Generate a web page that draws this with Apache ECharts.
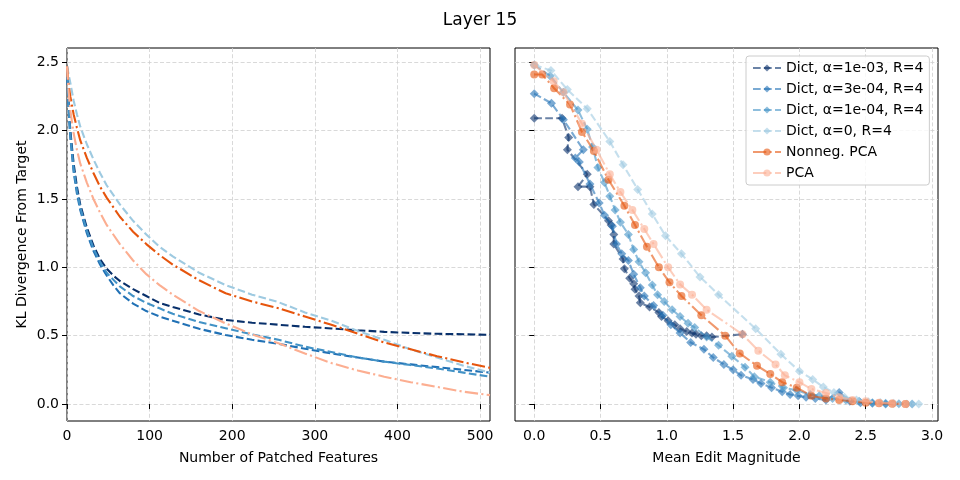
<!DOCTYPE html>
<html>
<head>
<meta charset="utf-8">
<title>Layer 15</title>
<script src="https://cdn.jsdelivr.net/npm/echarts@6/dist/echarts.min.js"></script>
<style>
  html, body { margin: 0; padding: 0; background: #fff; }
  #chart { width: 960px; height: 480px; }
</style>
</head>
<body>
<div id="chart"></div>
<script>
// left panel: KL vs number of patched features
var patched = [0, 2, 4, 8, 12, 16, 24, 32, 40, 48, 56, 64, 80, 96, 112, 128, 160, 192, 224, 256, 288, 320, 352, 384, 416, 448, 480, 512];
var klDict1e3 = [2.47, 2.20, 2.00, 1.76, 1.59, 1.46, 1.29, 1.16, 1.06, 0.99, 0.94, 0.90, 0.84, 0.79, 0.74, 0.71, 0.655, 0.615, 0.595, 0.58, 0.565, 0.553, 0.54, 0.528, 0.52, 0.514, 0.51, 0.506];
var klDict3e4 = [2.47, 2.15, 1.95, 1.70, 1.54, 1.42, 1.25, 1.12, 1.02, 0.94, 0.87, 0.81, 0.735, 0.68, 0.64, 0.61, 0.55, 0.505, 0.47, 0.44, 0.405, 0.37, 0.34, 0.31, 0.29, 0.27, 0.25, 0.23];
var klDict1e4 = [2.47, 2.17, 1.97, 1.72, 1.56, 1.44, 1.27, 1.14, 1.04, 0.96, 0.91, 0.86, 0.79, 0.74, 0.70, 0.66, 0.60, 0.555, 0.51, 0.47, 0.42, 0.38, 0.34, 0.31, 0.285, 0.26, 0.23, 0.20];
var klDict0 = [2.47, 2.41, 2.35, 2.22, 2.12, 2.03, 1.90, 1.79, 1.69, 1.60, 1.53, 1.46, 1.34, 1.24, 1.15, 1.08, 0.96, 0.87, 0.80, 0.745, 0.67, 0.61, 0.535, 0.47, 0.40, 0.34, 0.28, 0.23];
var klNonneg = [2.47, 2.33, 2.25, 2.12, 2.02, 1.93, 1.80, 1.69, 1.59, 1.51, 1.44, 1.37, 1.26, 1.17, 1.09, 1.02, 0.905, 0.81, 0.75, 0.70, 0.64, 0.58, 0.515, 0.45, 0.40, 0.35, 0.305, 0.265];
var klPca = [2.47, 2.28, 2.15, 1.98, 1.86, 1.76, 1.62, 1.50, 1.40, 1.31, 1.24, 1.17, 1.05, 0.95, 0.87, 0.80, 0.68, 0.59, 0.51, 0.445, 0.37, 0.30, 0.245, 0.20, 0.16, 0.125, 0.09, 0.065];

// right panel: [mean edit magnitude, KL]
var dict1e3 = [[0,2.09],[0.21,2.09],[0.26,1.95],[0.25,1.86],[0.40,1.68],[0.33,1.59],[0.42,1.59],[0.45,1.46],[0.56,1.34],[0.58,1.31],[0.60,1.24],[0.60,1.17],[0.67,1.06],[0.68,0.99],[0.72,0.92],[0.75,0.88],[0.76,0.84],[0.79,0.79],[0.80,0.74],[0.87,0.71],[0.94,0.67],[0.96,0.64],[1.01,0.61],[1.06,0.58],[1.10,0.55],[1.15,0.53],[1.19,0.52],[1.22,0.51],[1.26,0.50],[1.30,0.50],[1.34,0.49],[1.57,0.51]];
var dict3e4 = [[0,2.27],[0.13,2.20],[0.22,2.08],[0.37,1.86],[0.31,1.80],[0.34,1.77],[0.42,1.61],[0.49,1.47],[0.53,1.38],[0.59,1.30],[0.62,1.17],[0.66,1.10],[0.71,1.05],[0.75,0.95],[0.80,0.85],[0.83,0.79],[0.90,0.72],[0.97,0.65],[1.03,0.58],[1.10,0.52],[1.18,0.45],[1.28,0.40],[1.35,0.34],[1.43,0.29],[1.50,0.25],[1.56,0.21],[1.65,0.18],[1.71,0.15],[1.79,0.12],[1.87,0.09],[1.93,0.07],[1.99,0.06],[2.05,0.05],[2.12,0.04],[2.20,0.03],[2.30,0.085],[2.38,0.02],[2.46,0.01],[2.55,0.005],[2.65,0]];
var dict1e4 = [[0,2.48],[0.12,2.40],[0.22,2.28],[0.33,2.15],[0.40,2.01],[0.44,1.88],[0.48,1.73],[0.53,1.62],[0.57,1.52],[0.61,1.42],[0.65,1.33],[0.71,1.24],[0.75,1.13],[0.79,1.04],[0.84,0.96],[0.89,0.87],[0.93,0.80],[0.98,0.75],[1.04,0.69],[1.10,0.64],[1.16,0.59],[1.21,0.56],[1.30,0.49],[1.39,0.43],[1.49,0.35],[1.59,0.27],[1.66,0.20],[1.78,0.16],[1.88,0.12],[1.98,0.10],[2.08,0.07],[2.15,0.06],[2.25,0.04],[2.35,0.03],[2.45,0.02],[2.55,0.01],[2.65,0.005],[2.75,0.002],[2.85,0]];
var dict0 = [[0,2.48],[0.126,2.44],[0.25,2.30],[0.40,2.16],[0.57,1.92],[0.67,1.75],[0.78,1.57],[0.89,1.39],[0.99,1.23],[1.11,1.10],[1.25,0.93],[1.39,0.80],[1.67,0.55],[1.86,0.365],[2.00,0.24],[2.10,0.18],[2.18,0.125],[2.26,0.085],[2.34,0.05],[2.43,0.03],[2.52,0.017],[2.61,0.012],[2.71,0.005],[2.81,0],[2.90,0]];
var nonnegPca = [[0,2.41],[0.06,2.41],[0.15,2.31],[0.27,2.19],[0.36,1.99],[0.45,1.85],[0.56,1.64],[0.68,1.45],[0.76,1.31],[0.85,1.15],[0.94,1.00],[1.02,0.89],[1.11,0.79],[1.26,0.65],[1.44,0.50],[1.55,0.37],[1.68,0.28],[1.78,0.22],[1.87,0.16],[1.98,0.12],[2.09,0.06],[2.2,0.04],[2.3,0.03],[2.4,0.02],[2.5,0.01],[2.6,0.005],[2.7,0.002],[2.8,0]];
var pca = [[0,2.48],[0.146,2.36],[0.22,2.28],[0.36,2.05],[0.47,1.86],[0.57,1.68],[0.65,1.55],[0.74,1.42],[0.83,1.28],[0.90,1.17],[1.01,1.00],[1.10,0.875],[1.19,0.80],[1.30,0.69],[1.57,0.51],[1.69,0.39],[1.82,0.29],[1.89,0.21],[2.00,0.16],[2.09,0.11],[2.2,0.08],[2.3,0.05],[2.4,0.03],[2.5,0.02],[2.6,0.01],[2.7,0.005],[2.8,0]];

var names = ['Dict, α=1e-03, R=4', 'Dict, α=3e-04, R=4', 'Dict, α=1e-04, R=4', 'Dict, α=0, R=4', 'Nonneg. PCA', 'PCA'];
var colors = ['#08306b', '#2171b5', '#4292c6', '#9ecae1', '#e6550d', '#fcae91'];
var yTicks = [0, 0.5, 1.0, 1.5, 2.0, 2.5];
var featTicks = [0, 100, 200, 300, 400, 500];
var editTicks = [0, 0.5, 1.0, 1.5, 2.0, 2.5, 3.0];

var FONT = 'DejaVu Sans';
var DASH = [7.7, 3.3];
var DASHDOT = [13.3, 3.3, 2.1, 3.3];

function axisCommon(ticks, showLabels) {
  return {
    type: 'value',
    axisLine: { show: false },
    axisTick: { show: true, inside: false, length: 5, customValues: ticks, lineStyle: { color: '#000', width: 1 } },
    axisLabel: { show: showLabels, customValues: ticks, color: '#000', fontFamily: FONT, fontSize: 14, margin: 8,
      formatter: function (v) { return ticks === featTicks ? String(v) : v.toFixed(1); } },
    splitLine: { show: true, lineStyle: { color: '#cfcfcf', width: 0.8, type: [4, 2.2] } }
  };
}

function leftSeries(i, vals) {
  return {
    name: 'L ' + names[i], type: 'line', xAxisIndex: 0, yAxisIndex: 0,
    data: patched.map(function (x, k) { return [x, vals[k]]; }),
    showSymbol: false, smooth: false,
    lineStyle: { color: colors[i], width: 2.1, type: i < 4 ? DASH : DASHDOT },
    itemStyle: { color: colors[i] }, z: 2 + i
  };
}

function rightSeries(i, pts) {
  return {
    name: names[i], type: 'line', xAxisIndex: 1, yAxisIndex: 1, data: pts,
    symbol: i < 4 ? 'diamond' : 'circle', symbolSize: i < 4 ? 9 : 8, showSymbol: true,
    lineStyle: { color: colors[i], width: 2.1, type: i < 4 ? DASH : DASHDOT, opacity: 0.6 },
    itemStyle: { color: colors[i], opacity: 0.6 }, z: 2 + i
  };
}

var chart = echarts.init(document.getElementById('chart'), null, { renderer: 'canvas' });
var xLeft = axisCommon(featTicks, true);
xLeft.gridIndex = 0; xLeft.min = 0; xLeft.max = 512;
xLeft.name = 'Number of Patched Features'; xLeft.nameLocation = 'middle'; xLeft.nameGap = 30;
xLeft.nameTextStyle = { color: '#000', fontFamily: FONT, fontSize: 14 };
var xRight = axisCommon(editTicks, true);
xRight.gridIndex = 1; xRight.min = -0.145; xRight.max = 3.045;
xRight.name = 'Mean Edit Magnitude'; xRight.nameLocation = 'middle'; xRight.nameGap = 30;
xRight.nameTextStyle = { color: '#000', fontFamily: FONT, fontSize: 14 };
var yLeft = axisCommon(yTicks, true);
yLeft.gridIndex = 0; yLeft.min = -0.124; yLeft.max = 2.604;
yLeft.name = 'KL Divergence From Target'; yLeft.nameLocation = 'middle'; yLeft.nameGap = 38;
yLeft.nameTextStyle = { color: '#000', fontFamily: FONT, fontSize: 14 };
var yRight = axisCommon(yTicks, false);
yRight.gridIndex = 1; yRight.min = -0.124; yRight.max = 2.604;

chart.setOption({
  animation: false,
  backgroundColor: '#fff',
  title: { text: 'Layer 15', left: 'center', top: 7, textStyle: { fontFamily: FONT, fontSize: 17, fontWeight: 'normal', color: '#000' } },
  grid: [
    { left: 67, top: 48, width: 423, height: 373, show: true, borderColor: '#000', borderWidth: 1, backgroundColor: 'transparent' },
    { left: 515, top: 48, width: 423, height: 373, show: true, borderColor: '#000', borderWidth: 1, backgroundColor: 'transparent' }
  ],
  legend: {
    data: names, orient: 'vertical', left: 746, top: 56,
    itemWidth: 28, itemHeight: 9, itemGap: 7,
    backgroundColor: 'rgba(255,255,255,0.8)', borderColor: '#cccccc', borderWidth: 1, borderRadius: 3,
    padding: [5, 6, 5, 6],
    textStyle: { fontFamily: FONT, fontSize: 14, color: '#000' }
  },
  xAxis: [xLeft, xRight],
  yAxis: [yLeft, yRight],
  series: [
    leftSeries(0, klDict1e3), leftSeries(1, klDict3e4), leftSeries(2, klDict1e4),
    leftSeries(3, klDict0), leftSeries(4, klNonneg), leftSeries(5, klPca),
    rightSeries(0, dict1e3), rightSeries(1, dict3e4), rightSeries(2, dict1e4),
    rightSeries(3, dict0), rightSeries(4, nonnegPca), rightSeries(5, pca)
  ]
});
</script>
</body>
</html>
